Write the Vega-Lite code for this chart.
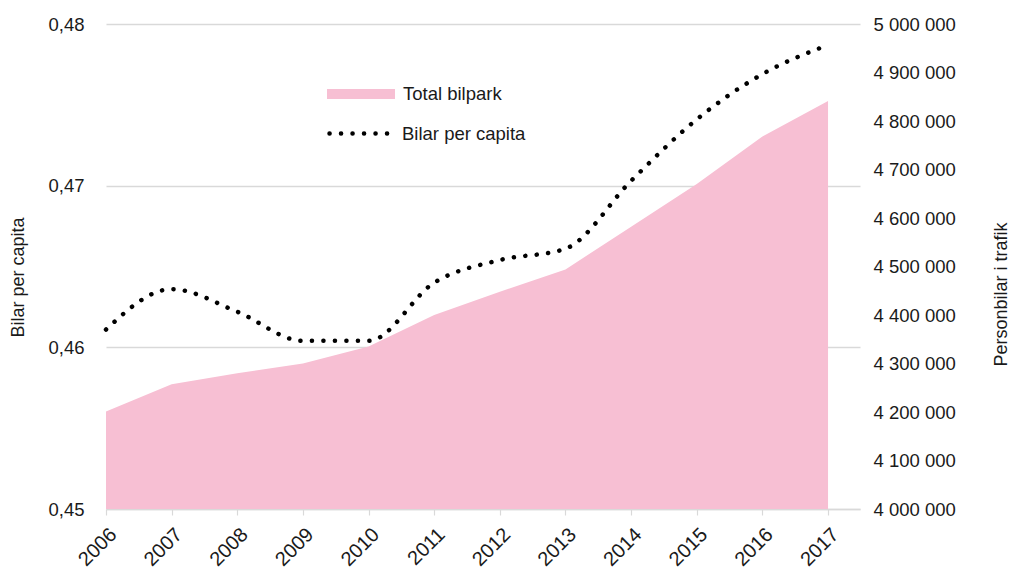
{
  "$schema": "https://vega.github.io/schema/vega-lite/v6.json",
  "autosize": {"type": "none"},
  "width": 754,
  "height": 485,
  "padding": {"left": 106, "top": 24, "right": 152, "bottom": 61},
  "background": "white",
  "config": {
    "font": "Liberation Sans",
    "view": {"stroke": null},
    "locale": {"number": {"decimal": ",", "thousands": " ", "grouping": [3], "currency": ["", ""]}},
    "axis": {"labelFont": "Liberation Sans", "labelFontSize": 18.5, "labelColor": "#1a1a1a", "titleFont": "Liberation Sans", "titleFontSize": 18, "titleFontWeight": "normal", "titleColor": "#1a1a1a"},
    "legend": {"labelFont": "Liberation Sans", "labelFontSize": 18.5, "labelColor": "#1a1a1a", "padding": 0, "offset": 0}
  },
  "data": {"values": [
    {"year": 2006, "bpc": 0.4611, "total": 4201000},
    {"year": 2007, "bpc": 0.4636, "total": 4257000},
    {"year": 2008, "bpc": 0.4622, "total": 4280000},
    {"year": 2009, "bpc": 0.4604, "total": 4300000},
    {"year": 2010, "bpc": 0.4604, "total": 4335000},
    {"year": 2011, "bpc": 0.4640, "total": 4400000},
    {"year": 2012, "bpc": 0.4654, "total": 4448000},
    {"year": 2013, "bpc": 0.4661, "total": 4494000},
    {"year": 2014, "bpc": 0.4703, "total": 4582000},
    {"year": 2015, "bpc": 0.4741, "total": 4670000},
    {"year": 2016, "bpc": 0.4769, "total": 4768000},
    {"year": 2017, "bpc": 0.4787, "total": 4841000}
  ]},
  "encoding": {
    "x": {
      "field": "year", "type": "quantitative",
      "scale": {"domain": [2006, 2017.487], "nice": false, "zero": false},
      "axis": {
        "title": null, "values": [2006,2007,2008,2009,2010,2011,2012,2013,2014,2015,2016,2017],
        "format": "d", "labelAngle": -45, "labelAlign": "right", "labelBaseline": "top",
        "labelFontSize": 20, "labelPadding": 9, "grid": false,
        "domainColor": "#D9D9D9", "domainWidth": 1.5,
        "tickColor": "#D9D9D9", "tickSize": 6, "tickWidth": 1.2, "labelFlush": false, "labelOverlap": false
      }
    }
  },
  "layer": [
    {
      "mark": {"type": "area", "line": false, "opacity": 1},
      "encoding": {
        "y": {
          "field": "total", "type": "quantitative",
          "scale": {"domain": [4000000, 5000000], "nice": false, "zero": false},
          "axis": {
            "orient": "right", "title": "Personbilar i trafik", "titleAngle": -90,
            "titleX": 141, "titleY": 270, "titleAlign": "center", "titleBaseline": "middle",
            "values": [4000000,4100000,4200000,4300000,4400000,4500000,4600000,4700000,4800000,4900000,5000000],
            "format": ",d", "grid": false, "ticks": false, "domain": false, "labelPadding": 13
          }
        },
        "y2": {"datum": 4000000},
        "fill": {
          "datum": "Total bilpark", "type": "nominal",
          "scale": {"range": ["#F7BFD3"]},
          "legend": {
            "title": null, "orient": "none", "legendX": 221, "legendY": 36,
            "symbolType": "M-1,-0.15H1V0.15H-1Z", "symbolSize": 4624, "symbolStrokeWidth": 0,
            "symbolOpacity": 1, "labelOffset": 8
          }
        }
      }
    },
    {
      "mark": {"type": "line", "interpolate": "monotone", "strokeWidth": 4.5, "strokeCap": "round", "strokeDash": [0.1, 11.4]},
      "encoding": {
        "y": {
          "field": "bpc", "type": "quantitative",
          "scale": {"domain": [0.45, 0.48], "nice": false, "zero": false},
          "axis": {
            "orient": "left", "title": "Bilar per capita",
            "titleX": -88, "titleY": 253, "titleAlign": "center", "titleBaseline": "middle", "titleAngle": -90,
            "values": [0.45, 0.46, 0.47, 0.48], "format": ".2f",
            "grid": true, "gridColor": "#D9D9D9", "gridWidth": 1.5,
            "ticks": false, "domain": false, "labelPadding": 22
          }
        },
        "stroke": {
          "datum": "Bilar per capita", "type": "nominal",
          "scale": {"range": ["#000000"]},
          "legend": {
            "title": null, "orient": "none", "legendX": 221, "legendY": 73,
            "symbolType": "stroke", "symbolSize": 4624, "symbolStrokeWidth": 4.5,
            "symbolDash": [0.1, 11.4], "labelOffset": 2,
            "encode": {"symbols": {"update": {"strokeCap": {"value": "round"}}}}
          }
        }
      }
    }
  ],
  "resolve": {"scale": {"y": "independent", "fill": "independent", "stroke": "independent"}}
}
